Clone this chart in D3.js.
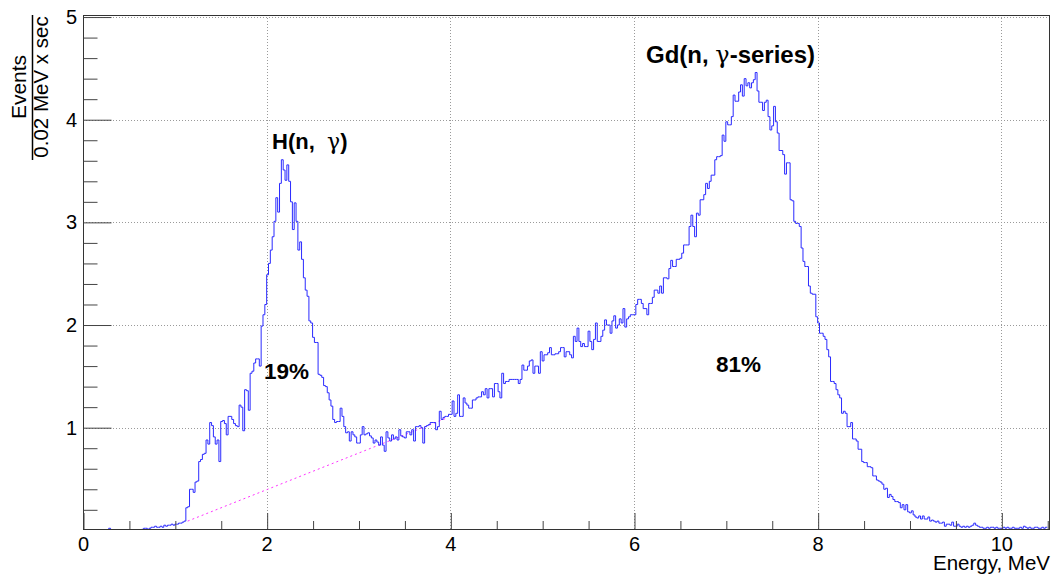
<!DOCTYPE html>
<html>
<head>
<meta charset="utf-8">
<title>Energy spectrum</title>
<style>
  body { margin: 0; background: #fff; }
  svg { display: block; font-family: "Liberation Sans", Arial, sans-serif; }
  .grid line { stroke: #9a9a9a; stroke-width: 1; stroke-dasharray: 1,2; }
  .axis path { display: none; }
  .axis line { stroke: #444; }
  .axis text { font-size: 20px; fill: #000; font-family: "Liberation Sans", Arial, sans-serif; }
  .hist { fill: none; stroke: #2a2aff; stroke-width: 1; }
  .bg { fill: none; stroke: #ff33ff; stroke-width: 1; stroke-dasharray: 2,3; }
  .frame { fill: none; stroke: #333; stroke-width: 1; }
  .label { font-weight: bold; fill: #000; }
</style>
</head>
<body>
<svg width="1053" height="574"></svg>
<script src="https://cdn.jsdelivr.net/npm/d3@7"></script>
<script>

// histogram: bins of 0.02 MeV starting at 0, one row = 0.5 MeV
var binWidth = 0.02;
var rate = [].concat(
  [0,0,0,0,0,0,0,0,0,0,0,0,0,0,0.02,0,0,0,0,0,0,0,0,0,0],
  [0,0,0,0,0,0,0,0.01,0.02,0.02,0.01,0.02,0.03,0.03,0.04,0.03,0.03,0.04,0.03,0.05,0.04,0.05,0.05,0.06,0.05],
  [0.06,0.06,0.07,0.07,0.08,0.09,0.22,0.23,0.40,0.40,0.37,0.47,0.48,0.67,0.69,0.74,0.75,0.88,0.84,1.05,1.02,0.91,0.84,0.88,0.67],
  [1.06,1.07,1.04,0.93,1.11,1.11,1.08,1.04,1.02,1.01,1.22,1.20,0.97,1.37,1.36,1.17,1.53,1.55,1.63,1.67,1.67,1.60,1.99,2.10,2.20],
  [2.49,2.60,2.73,2.86,3.01,3.24,3.10,3.38,3.61,3.51,3.41,3.56,3.40,3.20,2.93,3.19,3.01,2.73,2.81,2.64,2.46,2.34,2.28,2.04,2.02],
  [1.88,1.83,1.83,1.52,1.51,1.49,1.41,1.40,1.34,1.27,1.21,1.08,1.05,1.06,1.06,1.19,1.11,1.01,0.95,0.96,0.87,0.96,0.93,0.91,0.85],
  [0.85,0.93,1.01,0.93,0.94,0.95,0.92,0.90,0.85,0.88,0.86,0.83,0.91,0.83,0.77,0.96,0.90,0.87,0.93,0.89,0.91,0.88,0.98,0.92,0.91],
  [0.90,0.96,0.96,0.93,0.98,0.87,1.01,1.01,1.02,1.00,0.85,1.01,1.02,1.03,1.05,1.05,1.05,0.98,1.01,1.16,1.08,1.10,1.11,1.11,1.13],
  [1.13,1.26,1.11,1.14,1.32,1.11,1.11,1.29,1.24,1.22,1.19,1.19,1.27,1.27,1.29,1.30,1.30,1.35,1.32,1.38,1.29,1.38,1.38,1.30,1.43],
  [1.43,1.35,1.29,1.53,1.43,1.45,1.45,1.47,1.47,1.47,1.47,1.47,1.43,1.47,1.61,1.56,1.56,1.60,1.65,1.66,1.53,1.60,1.60,1.53,1.74],
  [1.65,1.71,1.71,1.73,1.78,1.71,1.71,1.72,1.72,1.74,1.78,1.78,1.69,1.74,1.74,1.71,1.68,1.89,1.84,1.97,1.84,1.79,1.82,1.79,1.79],
  [1.94,1.84,1.76,1.86,2.02,1.84,1.84,1.89,1.95,2.05,2.00,2.00,1.92,2.04,2.09,1.97,2.00,2.06,2.02,2.16,1.98,2.06,2.08,2.10,2.10],
  [2.10,2.20,2.25,2.25,2.21,2.16,2.16,2.10,2.21,2.21,2.27,2.34,2.34,2.31,2.38,2.31,2.46,2.46,2.45,2.55,2.63,2.57,2.57,2.64,2.64],
  [2.65,2.70,2.78,2.78,2.78,2.96,3.07,2.96,2.86,3.09,3.07,3.22,3.22,3.27,3.38,3.33,3.40,3.46,3.46,3.61,3.64,3.64,3.65,3.85,3.79],
  [3.98,3.95,3.95,4.03,4.24,4.18,4.18,4.27,4.34,4.23,4.40,4.33,4.36,4.31,4.36,4.39,4.46,4.28,4.17,4.17,4.09,4.17,4.19,4.03,3.90],
  [3.94,4.13,3.98,3.87,3.70,3.70,3.66,3.47,3.58,3.58,3.22,3.21,3.01,2.99,2.99,2.96,2.75,2.62,2.57,2.57,2.38,2.31,2.30,2.30,2.08],
  [2.02,1.92,1.92,1.89,1.86,1.76,1.69,1.45,1.45,1.43,1.37,1.32,1.29,1.14,1.16,1.14,1.01,1.01,1.05,0.89,0.89,0.87,0.79,0.79,0.67],
  [0.66,0.66,0.62,0.62,0.61,0.53,0.53,0.49,0.48,0.47,0.45,0.40,0.41,0.32,0.35,0.33,0.30,0.28,0.28,0.27,0.22,0.25,0.20,0.25,0.18],
  [0.17,0.19,0.15,0.13,0.12,0.14,0.11,0.14,0.11,0.11,0.13,0.09,0.10,0.09,0.08,0.09,0.07,0.07,0.08,0.04,0.06,0.06,0.05,0.08,0.04],
  [0.04,0.06,0.04,0.03,0.04,0.03,0.04,0.03,0.04,0.05,0.07,0.05,0.04,0.03,0.03,0.02,0.02,0.03,0.02,0.03,0.03,0.02,0.03,0.02,0.02],
  [0.02,0.03,0.02,0.03,0.02,0.02,0.03,0.02,0.02,0.02,0.03,0.02,0.04,0.03,0.02,0.03,0.02,0.02,0.03,0.03,0.02,0.02,0.03,0.02,0.03]
);

// dotted background line under the H peak
var bgLineE = [1.14, 3.95];
var bgLineV = [0.09, 1.09];

var xTicks = [0, 2, 4, 6, 8, 10];
var xMinor = [0.5, 1, 1.5, 2.5, 3, 3.5, 4.5, 5, 5.5, 6.5, 7, 7.5, 8.5, 9, 9.5, 10.5];
var yTicks = [1, 2, 3, 4, 5];
var yMinor = [0.2, 0.4, 0.6, 0.8, 1.2, 1.4, 1.6, 1.8, 2.2, 2.4, 2.6, 2.8, 3.2, 3.4, 3.6, 3.8, 4.2, 4.4, 4.6, 4.8];

var svg = d3.select("svg"),
    margin = {top: 15, right: 3, bottom: 45, left: 83},
    width = +svg.attr("width") - margin.left - margin.right,
    height = +svg.attr("height") - margin.top - margin.bottom,
    g = svg.append("g").attr("transform", "translate(" + margin.left + "," + margin.top + ")");

var x = d3.scaleLinear().domain([0, 10.53]).range([0, width]);
var y = d3.scaleLinear().domain([0.013, 5.02]).range([height, 0]);

svg.append("defs").append("clipPath").attr("id", "plot")
  .append("rect").attr("width", width).attr("height", height);

// grid
var grid = g.append("g").attr("class", "grid");
grid.selectAll(".gx").data(xTicks.slice(1)).enter().append("line")
    .attr("x1", function(d) { return Math.round(x(d)) + 0.5; })
    .attr("x2", function(d) { return Math.round(x(d)) + 0.5; })
    .attr("y1", 0).attr("y2", height);
grid.selectAll(".gy").data(yTicks).enter().append("line")
    .attr("y1", function(d) { return Math.round(y(d)) + 0.5; })
    .attr("y2", function(d) { return Math.round(y(d)) + 0.5; })
    .attr("x1", 0).attr("x2", width);

var plot = g.append("g").attr("clip-path", "url(#plot)");

plot.append("path")
    .attr("class", "bg")
    .attr("d", d3.line()(bgLineE.map(function(e, i) { return [x(e), y(bgLineV[i])]; })));

// step histogram
var pts = rate.map(function(v, i) { return [binWidth * i, v]; });
pts.push([binWidth * rate.length, rate[rate.length - 1]]);

var line = d3.line()
    .x(function(d) { return x(d[0]); })
    .y(function(d) { return y(d[1]); })
    .curve(d3.curveStepAfter);

plot.append("path").attr("class", "hist").attr("d", line(pts));

// frame
g.append("rect").attr("class", "frame")
    .attr("x", 0.5).attr("y", 0.5)
    .attr("width", width - 1).attr("height", height);

// axes, ticks pointing inward like ROOT
g.append("g").attr("class", "axis")
    .attr("transform", "translate(0," + height + ")")
    .call(d3.axisBottom(x).tickValues(xTicks).tickSizeInner(-16).tickSizeOuter(0).tickPadding(8)
      .tickFormat(d3.format("d")));
g.append("g").attr("class", "axis")
    .attr("transform", "translate(0," + height + ")")
    .call(d3.axisBottom(x).tickValues(xMinor).tickSizeInner(-8).tickSizeOuter(0).tickFormat(""));

g.append("g").attr("class", "axis")
    .call(d3.axisLeft(y).tickValues(yTicks).tickSizeInner(-28).tickSizeOuter(0).tickPadding(6)
      .tickFormat(d3.format("d")));
g.append("g").attr("class", "axis")
    .call(d3.axisLeft(y).tickValues(yMinor).tickSizeInner(-14).tickSizeOuter(0).tickFormat(""));

g.selectAll(".axis .tick line").attr("transform", "translate(0.5,0)");

// axis titles
svg.append("text")
    .attr("x", 1050).attr("y", 570)
    .attr("text-anchor", "end")
    .style("font-size", "20.5px")
    .text("Energy, MeV");

svg.append("text")
    .attr("transform", "translate(26,87) rotate(-90)")
    .attr("text-anchor", "middle")
    .style("font-size", "21px")
    .text("Events");
svg.append("line")
    .attr("x1", 32.5).attr("x2", 32.5).attr("y1", 15).attr("y2", 160)
    .attr("stroke", "#000").attr("stroke-width", 1.5);
svg.append("text")
    .attr("transform", "translate(48,87) rotate(-90)")
    .attr("text-anchor", "middle")
    .style("font-size", "20.5px")
    .text("0.02 MeV x sec");

// peak annotations
function peakLabel(px, py, size, before, after) {
  var t = svg.append("text").attr("class", "label")
      .attr("x", px).attr("y", py).style("font-size", size + "px");
  t.append("tspan").text(before);
  t.append("tspan").style("font-family", "'DejaVu Serif', 'Liberation Serif', serif")
      .style("font-weight", "normal").text("\u03b3");
  t.append("tspan").text(after);
}
peakLabel(272, 149, 22, "H(n,\u00a0\u00a0", ")");
peakLabel(646, 63, 24, "Gd(n,  ", "-series)");

svg.append("text").attr("class", "label")
    .attr("x", 264).attr("y", 379).style("font-size", "22.5px").text("19%");
svg.append("text").attr("class", "label")
    .attr("x", 716).attr("y", 372).style("font-size", "22.5px").text("81%");

</script>
</body>
</html>
